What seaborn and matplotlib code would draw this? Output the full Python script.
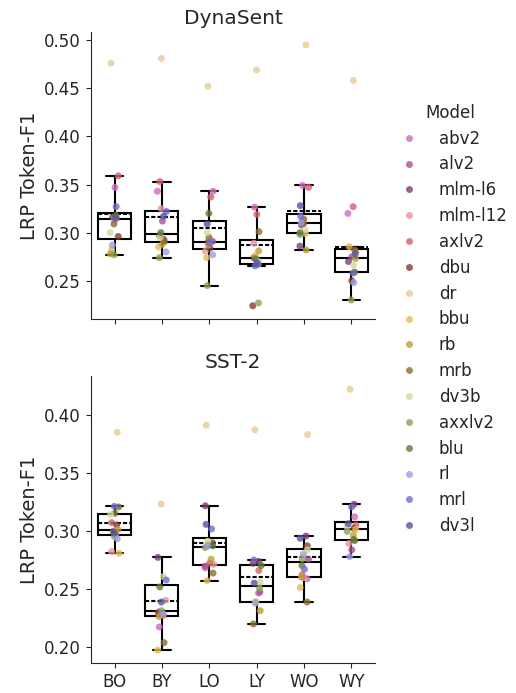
import numpy as np
import pandas as pd
import matplotlib
matplotlib.use("Agg")
import matplotlib.pyplot as plt
import seaborn as sns

# Model names and their colours
models = ["abv2", "alv2", "mlm-l6", "mlm-l12", "axlv2", "dbu", "dr", "bbu",
          "rb", "mrb", "dv3b", "axxlv2", "blu", "rl", "mrl", "dv3l"]
model_colors = ["#ce6dbd", "#a55194", "#7b4173", "#e7969c", "#d6616b", "#843c39",
                "#e7cb94", "#e7ba52", "#bd9e39", "#8c6d31", "#cedb9c", "#8ca252",
                "#637939", "#9c9ede", "#6b6ecf", "#5254a3"]
groups = ["BO", "BY", "LO", "LY", "WO", "WY"]

# LRP Token-F1 per model (same order as `models`) -- DynaSent
dynasent_bo = [0.347, 0.315, 0.316, 0.313, 0.359, 0.296, 0.476, 0.282,
               0.278, 0.309, 0.300, 0.277, 0.318, 0.287, 0.327, 0.315]
dynasent_by = [0.343, 0.312, 0.297, 0.325, 0.353, 0.293, 0.481, 0.285,
               0.288, 0.291, 0.295, 0.274, 0.300, 0.280, 0.322, 0.317]
dynasent_lo = [0.343, 0.291, 0.290, 0.281, 0.337, 0.284, 0.452, 0.274,
               0.287, 0.295, 0.300, 0.245, 0.320, 0.277, 0.289, 0.309]
dynasent_ly = [0.3265, 0.272, 0.274, 0.289, 0.319, 0.224, 0.469, 0.276,
               0.281, 0.301, 0.270, 0.227, 0.273, 0.267, 0.2655, 0.268]
dynasent_wo = [0.349, 0.309, 0.286, 0.312, 0.347, 0.308, 0.495, 0.299,
               0.282, 0.314, 0.303, 0.298, 0.300, 0.310, 0.317, 0.328]
dynasent_wy = [0.320, 0.275, 0.270, 0.280, 0.327, 0.250, 0.458, 0.2855,
               0.273, 0.282, 0.266, 0.230, 0.259, 0.248, 0.258, 0.278]

# LRP Token-F1 per model -- SST-2
sst2_bo = [0.2965, 0.2995, 0.299, 0.282, 0.307, 0.305, 0.385, 0.2805,
           0.301, 0.315, 0.314, 0.295, 0.3205, 0.293, 0.321, 0.298]
sst2_by = [0.217, 0.230, 0.277, 0.240, 0.227, 0.229, 0.323, 0.197,
           0.226, 0.2035, 0.2605, 0.231, 0.2515, 0.228, 0.2575, 0.2385]
sst2_lo = [0.268, 0.2695, 0.3215, 0.271, 0.272, 0.2895, 0.391, 0.257,
           0.2755, 0.2635, 0.291, 0.2855, 0.287, 0.2865, 0.3015, 0.3055]
sst2_ly = [0.2462, 0.2471, 0.2735, 0.2385, 0.2657, 0.2720, 0.387, 0.2388,
           0.231, 0.2196, 0.2555, 0.2505, 0.2700, 0.2375, 0.2748, 0.2548]
sst2_wo = [0.2585, 0.2755, 0.2954, 0.2595, 0.262, 0.287, 0.383, 0.251,
           0.260, 0.2385, 0.2835, 0.276, 0.270, 0.2797, 0.2668, 0.2935]
sst2_wy = [0.312, 0.2835, 0.3228, 0.289, 0.305, 0.302, 0.422, 0.301,
           0.296, 0.2915, 0.3035, 0.2995, 0.2925, 0.2777, 0.3205, 0.306]


def build_frame(columns):
    rows = []
    for grp, vals in zip(groups, columns):
        for m, v in zip(models, vals):
            rows.append({"group": grp, "model": m, "value": v})
    return pd.DataFrame(rows)


def narrow_caps(ax, half_width):
    """Shrink whisker caps to a fixed half width around each box centre."""
    ends = set()
    for ln in ax.lines:
        x, y = np.asarray(ln.get_xdata(), float), np.asarray(ln.get_ydata(), float)
        if len(x) == 2 and np.isclose(x[0], x[1]) and not np.isclose(y[0], y[1]):
            ends.add((round(x[0], 6), round(y[1], 9)))
    for ln in ax.lines:
        x, y = np.asarray(ln.get_xdata(), float), np.asarray(ln.get_ydata(), float)
        if len(x) == 2 and np.isclose(y[0], y[1]) and not np.isclose(x[0], x[1]):
            c = (x[0] + x[1]) / 2
            if (round(c, 6), round(y[0], 9)) in ends:
                ln.set_xdata([c - half_width, c + half_width])


panels = [
    ("DynaSent", build_frame([dynasent_bo, dynasent_by, dynasent_lo,
                              dynasent_ly, dynasent_wo, dynasent_wy]),
     [0.25, 0.30, 0.35, 0.40, 0.45, 0.50]),
    ("SST-2", build_frame([sst2_bo, sst2_by, sst2_lo,
                           sst2_ly, sst2_wo, sst2_wy]),
     [0.20, 0.25, 0.30, 0.35, 0.40]),
]

sns.set_style("ticks")
plt.rcParams["font.family"] = ["DejaVu Sans"]

np.random.seed(3)
fig, axes = plt.subplots(2, 1, figsize=(5.16, 6.93), dpi=100, sharex=True)
fig.subplots_adjust(left=0.176, right=0.727, top=0.954, bottom=0.043, hspace=0.2)

for ax, (title, df, yticks) in zip(axes, panels):
    sns.boxplot(data=df, x="group", y="value", order=groups, width=0.7,
                color="white", linecolor="black", linewidth=1.5,
                showfliers=False, showmeans=True, meanline=True,
                meanprops=dict(color="black", linestyle=(0, (2, 1)),
                               linewidth=1.5),
                ax=ax)
    narrow_caps(ax, 0.185)
    sns.stripplot(data=df, x="group", y="value", order=groups,
                  hue="model", hue_order=models, palette=model_colors,
                  size=5, alpha=0.8, jitter=0.1, linewidth=0,
                  zorder=3, ax=ax)
    ax.set_title(title, fontsize=14.5)
    ax.set_ylabel("LRP Token-F1", fontsize=14)
    ax.set_xlabel("")
    ax.set_yticks(yticks)
    ax.set_yticklabels([f"{t:.2f}" for t in yticks])
    ax.tick_params(labelsize=12)
    sns.despine(ax=ax)

handles, labels = axes[0].get_legend_handles_labels()
for ax in axes:
    if ax.get_legend() is not None:
        ax.get_legend().remove()
leg = fig.legend(handles, labels, title="Model", loc="center left",
                 bbox_to_anchor=(0.731, 0.539), frameon=False,
                 fontsize=12, title_fontsize=12, labelspacing=0.47)

fig.savefig("out.png", dpi=100)
